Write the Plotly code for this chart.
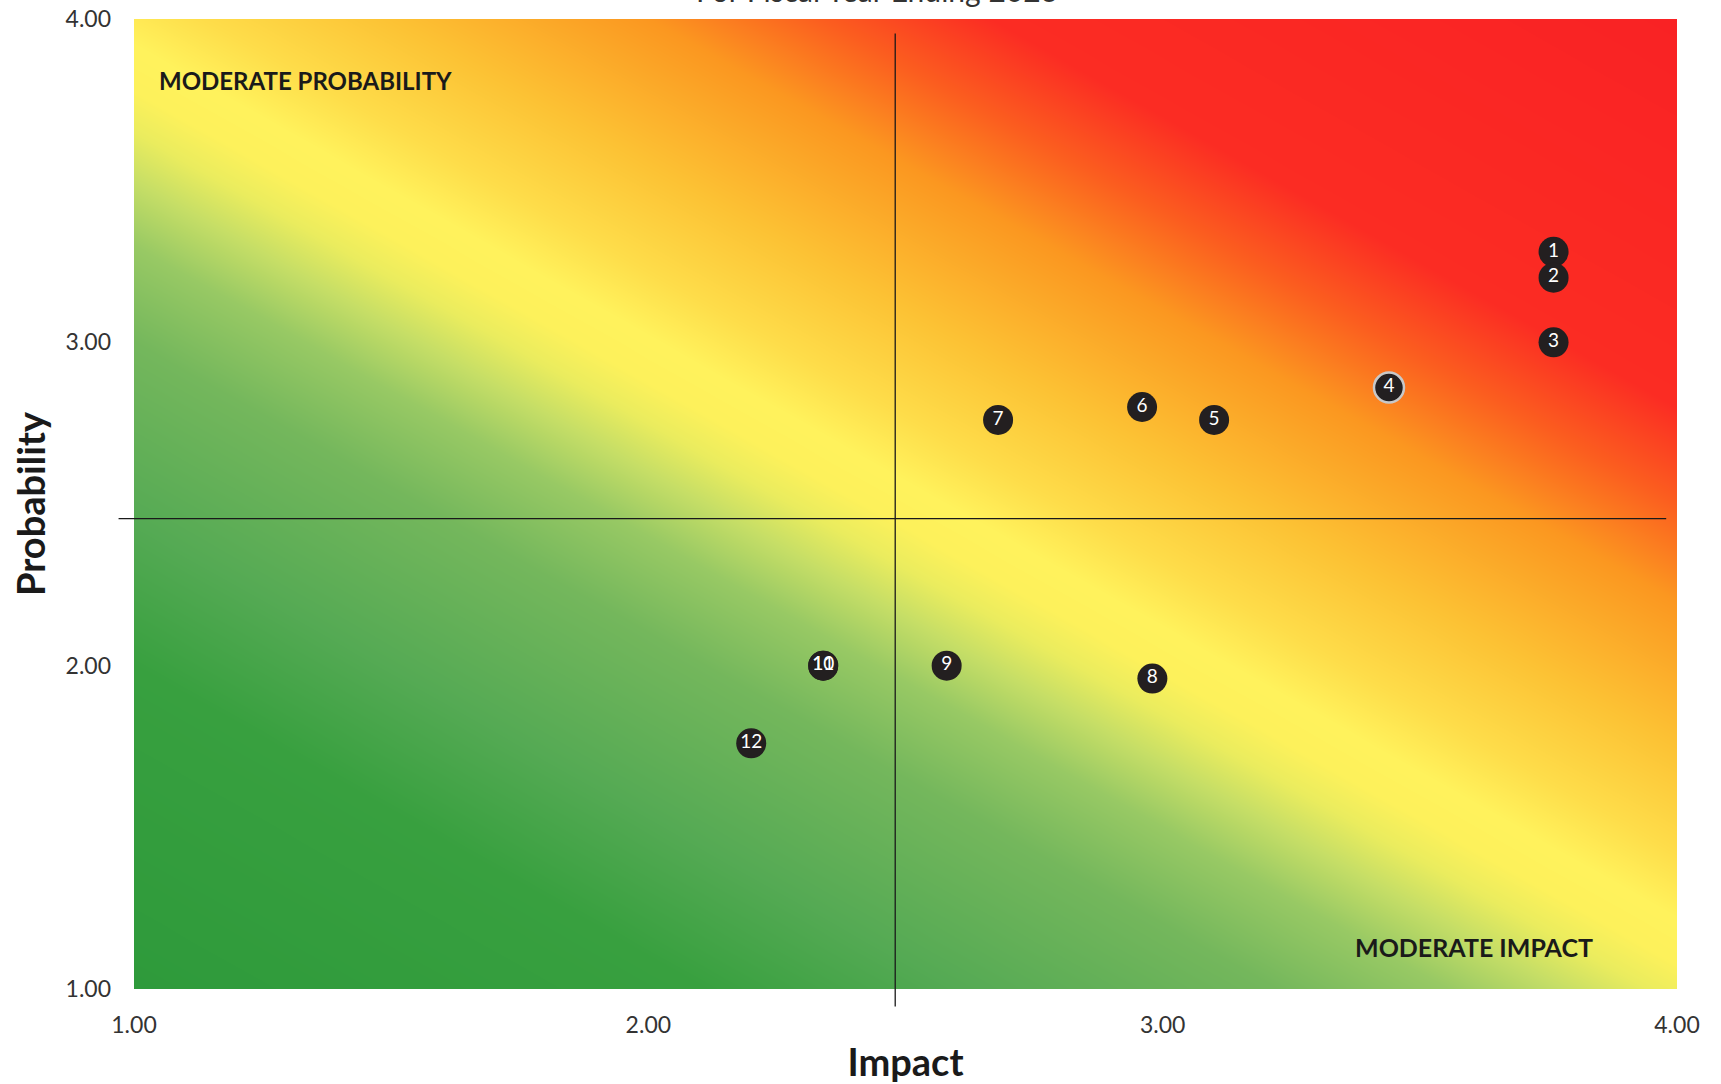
import numpy as np
import plotly.graph_objects as go

# ---- data ----
risk_ids = ["1", "2", "3", "4", "5", "6", "7", "8", "9", "10", "11", "12"]
impact = [3.76, 3.76, 3.76, 3.44, 3.10, 2.96, 2.68, 2.98, 2.58, 2.34, 2.34, 2.20]
probability = [3.28, 3.20, 3.00, 2.86, 2.76, 2.80, 2.76, 1.96, 2.00, 2.00, 2.00, 1.76]
impact_ticks = [1.0, 2.0, 3.0, 4.0]
probability_ticks = [1.0, 2.0, 3.0, 4.0]
impact_midline = 2.48
probability_midline = 2.455
title_text = "For Fiscal Year Ending 2023"

# ---- decorative background gradient (risk heat) ----
gx = np.linspace(1, 4, 61)
gy = np.linspace(1, 4, 61)
GX, GY = np.meshgrid(gx, gy)
A = 0.9
Z = A * GX + GY
zmin, zmax = A * 1 + 1, A * 4 + 4

stops = [
    (1.9, "#2e9a3b"),
    (2.9, "#38a03f"),
    (3.35, "#55aa54"),
    (3.9, "#74b75c"),
    (4.2, "#98c964"),
    (4.4, "#c6de66"),
    (4.55, "#eaec5e"),
    (4.68, "#fdf15b"),
    (4.82, "#fff25c"),
    (5.02, "#fedd4a"),
    (5.35, "#fcc234"),
    (5.8, "#fb9720"),
    (6.1, "#fb5e1f"),
    (6.4, "#fb2c23"),
    (7.6, "#f92224"),
]
colorscale = [[(z - zmin) / (zmax - zmin), c] for z, c in stops]
colorscale[0][0] = 0.0
colorscale[-1][0] = 1.0

fig = go.Figure()
fig.add_trace(go.Heatmap(
    x=gx, y=gy, z=Z, zmin=zmin, zmax=zmax, colorscale=colorscale,
    zsmooth="best", showscale=False, hoverinfo="skip",
))

line_colors = ["#c8c8c8" if r == "4" else "#231f20" for r in risk_ids]
line_widths = [2.5 if r == "4" else 0 for r in risk_ids]

fig.add_trace(go.Scatter(
    x=impact, y=probability, mode="markers+text", text=risk_ids,
    textposition="middle center",
    textfont=dict(family="Lato, sans-serif", size=19, color="white"),
    marker=dict(size=30, color="#231f20", line=dict(color=line_colors, width=line_widths)),
    showlegend=False,
))

# crosshair lines
fig.add_shape(type="line", xref="x", yref="paper", x0=impact_midline, x1=impact_midline,
              y0=-0.018, y1=0.985, line=dict(color="#1a1a1a", width=1.3), layer="above")
fig.add_shape(type="line", xref="paper", yref="y", x0=-0.01, x1=0.993,
              y0=probability_midline, y1=probability_midline,
              line=dict(color="#1a1a1a", width=1.3), layer="above")

# labels
fig.add_annotation(x=1.045, y=3.81, xref="x", yref="y", text="<b>MODERATE PROBABILITY</b>",
                   showarrow=False, xanchor="left", yanchor="middle",
                   font=dict(family="Lato, sans-serif", size=24, color="#1a1a1a"))
fig.add_annotation(x=3.84, y=1.13, xref="x", yref="y", text="<b>MODERATE IMPACT</b>",
                   showarrow=False, xanchor="right", yanchor="middle",
                   font=dict(family="Lato, sans-serif", size=25, color="#1a1a1a"))
fig.add_annotation(x=0.4815, y=1.009, xref="paper", yref="paper", text=title_text,
                   showarrow=False, xanchor="center", yanchor="bottom",
                   font=dict(family="Lato, sans-serif", size=30, color="#333333"))

fig.update_layout(
    width=1721, height=1084,
    margin=dict(l=134, r=44, t=19, b=95),
    paper_bgcolor="white", plot_bgcolor="white",
    xaxis=dict(
        range=[1, 4], tickvals=impact_ticks, tickformat=".2f",
        showgrid=False, zeroline=False, showline=False, ticks="",
        ticklabelstandoff=20, automargin=False,
        tickfont=dict(family="Lato, sans-serif", size=23, color="#333333"),
        title=dict(text="<b>Impact</b>", standoff=14,
                   font=dict(family="Lato, sans-serif", size=38, color="#1a1a1a")),
    ),
    yaxis=dict(
        range=[1, 4], tickvals=probability_ticks, tickformat=".2f",
        showgrid=False, zeroline=False, showline=False, ticks="",
        ticklabelstandoff=22, automargin=False,
        tickfont=dict(family="Lato, sans-serif", size=23, color="#333333"),
        title=dict(text="<b>Probability</b>", standoff=8,
                   font=dict(family="Lato, sans-serif", size=38, color="#1a1a1a")),
    ),
)

fig.write_html("out.html", config={"displayModeBar": False},
               post_script="document.body.style.margin='0';")
